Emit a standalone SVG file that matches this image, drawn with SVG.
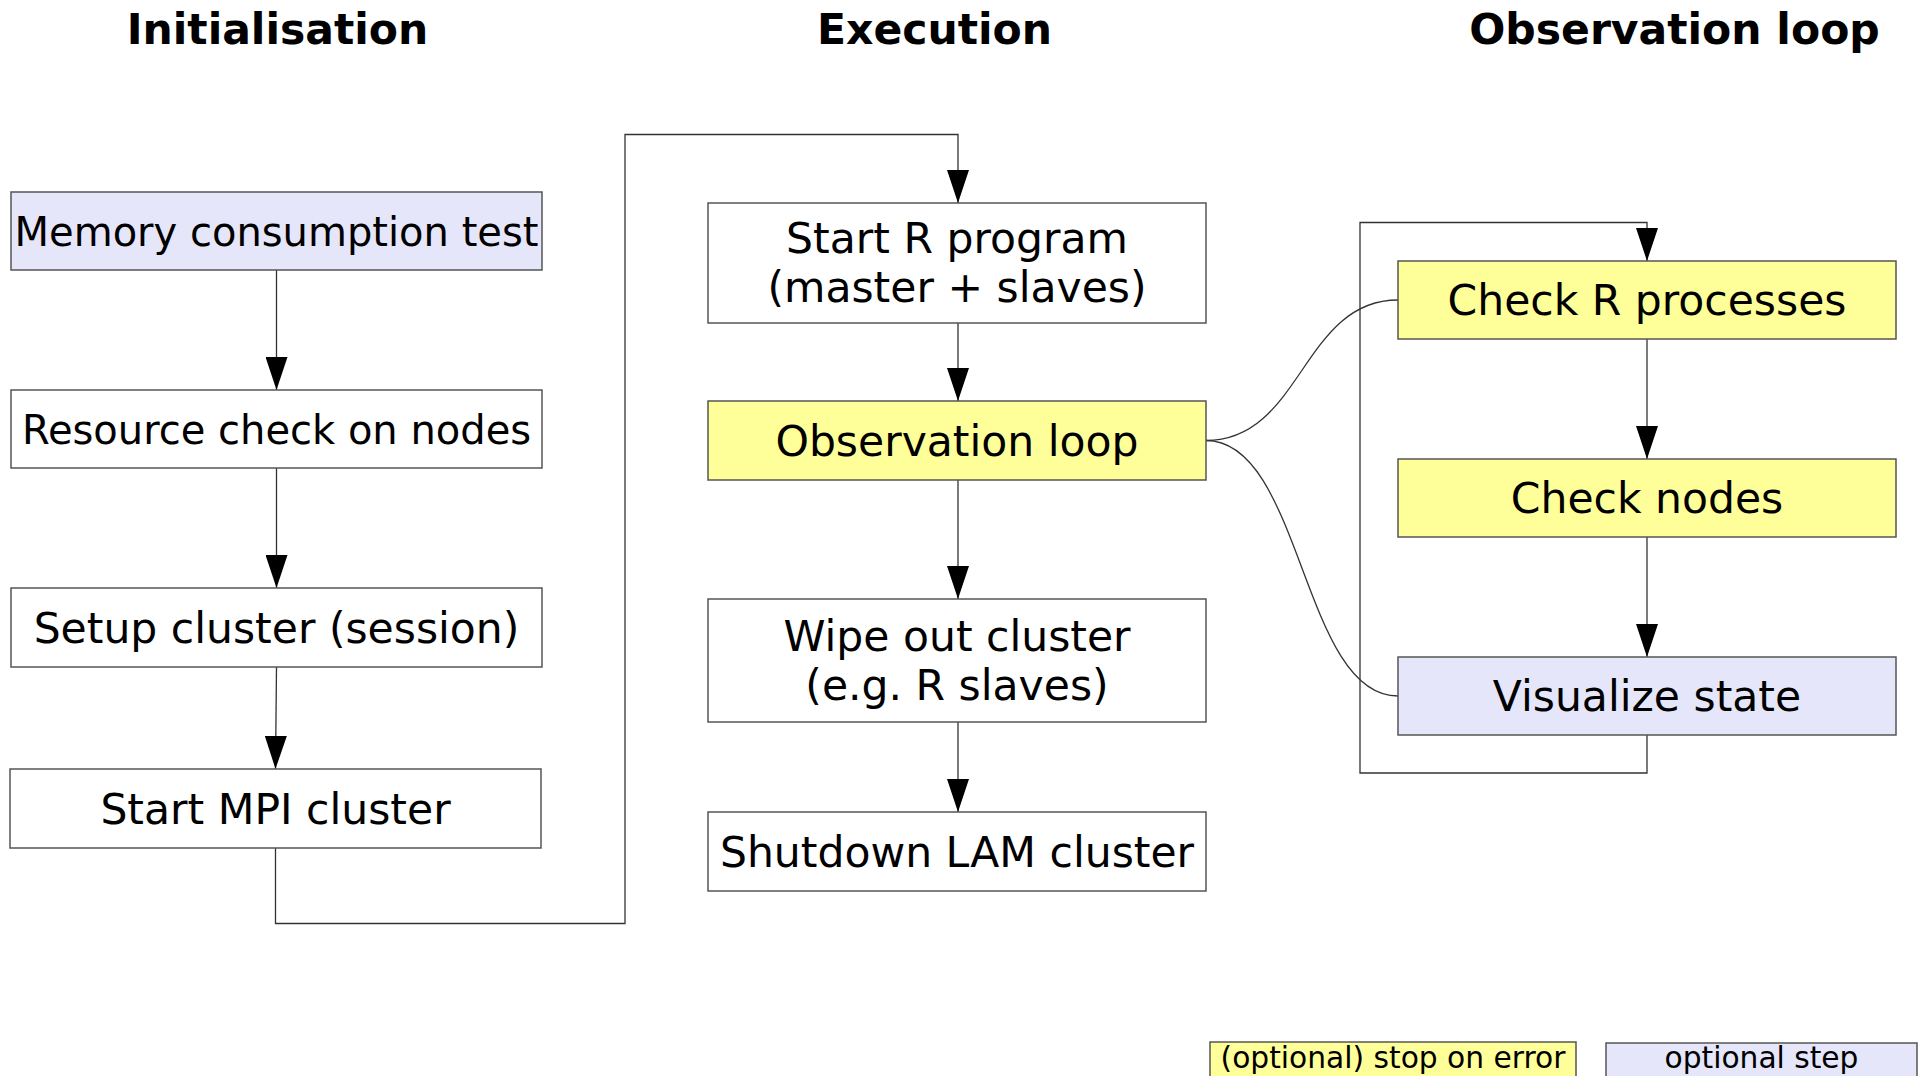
<svg xmlns="http://www.w3.org/2000/svg" width="1918" height="1076" viewBox="0 0 1918 1076">
<defs>
<style>
.box{stroke:#555;stroke-width:1.5}
.plain{fill:#fff}
.yel{fill:#ffff99}
.lav{fill:#e6e6fa}
.t{font-family:"DejaVu Sans",Verdana,sans-serif;font-size:42.5px;fill:#000;text-anchor:middle}
.s{font-size:40px}
.h{font-family:"DejaVu Sans",Verdana,sans-serif;font-size:42.5px;font-weight:bold;fill:#000;text-anchor:middle}
.lg{font-family:"DejaVu Sans",Verdana,sans-serif;font-size:29.7px;fill:#000;text-anchor:middle}
.c{fill:none;stroke:#333;stroke-width:1.3}
</style>
<marker id="arr" markerUnits="userSpaceOnUse" viewBox="0 0 33 22" refX="33" refY="11" markerWidth="33" markerHeight="22" orient="auto">
<path d="M0,0 L33,11 L0,22 z" fill="#000"/>
</marker>
</defs>
<rect width="1918" height="1076" fill="#fff"/>
<g id="titles">
<text class="h" x="277.5" y="44">Initialisation</text>
<text class="h" x="934.5" y="44">Execution</text>
<text class="h" x="1674.5" y="44">Observation loop</text>
</g>
<g id="connectors">
<path class="c" d="M276.5,270 V390" marker-end="url(#arr)"/>
<path class="c" d="M276.5,468 V588" marker-end="url(#arr)"/>
<path class="c" d="M276.5,667 L275.5,769" marker-end="url(#arr)"/>
<path class="c" d="M275.5,848 V923.5 H625 V134.5 H958 V203" marker-end="url(#arr)"/>
<path class="c" d="M958,323 V401" marker-end="url(#arr)"/>
<path class="c" d="M958,480 V599" marker-end="url(#arr)"/>
<path class="c" d="M958,722 V812" marker-end="url(#arr)"/>
<path class="c" d="M1206,440.5 C1302,440.5 1302,300 1398,300"/>
<path class="c" d="M1206,440.5 C1302,440.5 1302,696 1398,696"/>
<path class="c" d="M1647,339 V459" marker-end="url(#arr)"/>
<path class="c" d="M1647,537 V657" marker-end="url(#arr)"/>
<path class="c" d="M1647,735 V773 H1360 V222.5 H1647 V261" marker-end="url(#arr)"/>
</g>
<g id="memory">
<rect class="box lav" x="11" y="192" width="531" height="78"/>
<text class="t s" x="276.5" y="245.5">Memory consumption test</text>
</g>
<g id="resource">
<rect class="box plain" x="11" y="390" width="531" height="78"/>
<text class="t s" x="276.5" y="443.5">Resource check on nodes</text>
</g>
<g id="setup">
<rect class="box plain" x="11" y="588" width="531" height="79"/>
<text class="t" x="276.5" y="643">Setup cluster (session)</text>
</g>
<g id="startmpi">
<rect class="box plain" x="10" y="769" width="531" height="79"/>
<text class="t" x="275.5" y="824">Start MPI cluster</text>
</g>
<g id="startr">
<rect class="box plain" x="708" y="203" width="498" height="120"/>
<text class="t" x="957" y="253">Start R program</text>
<text class="t" x="957" y="302">(master + slaves)</text>
</g>
<g id="obsloop">
<rect class="box yel" x="708" y="401" width="498" height="79"/>
<text class="t" x="957" y="456">Observation loop</text>
</g>
<g id="wipe">
<rect class="box plain" x="708" y="599" width="498" height="123"/>
<text class="t" x="957" y="651">Wipe out cluster</text>
<text class="t" x="957" y="700">(e.g. R slaves)</text>
</g>
<g id="shutdown">
<rect class="box plain" x="708" y="812" width="498" height="79"/>
<text class="t" x="957" y="867">Shutdown LAM cluster</text>
</g>
<g id="checkr">
<rect class="box yel" x="1398" y="261" width="498" height="78"/>
<text class="t" x="1647" y="315">Check R processes</text>
</g>
<g id="checknodes">
<rect class="box yel" x="1398" y="459" width="498" height="78"/>
<text class="t" x="1647" y="513">Check nodes</text>
</g>
<g id="visualize">
<rect class="box lav" x="1398" y="657" width="498" height="78"/>
<text class="t" x="1647" y="711">Visualize state</text>
</g>
<g id="legend-error">
<rect class="box yel" x="1210" y="1042" width="366" height="50"/>
<text class="lg" x="1393" y="1068">(optional) stop on error</text>
</g>
<g id="legend-optional">
<rect class="box lav" x="1606" y="1043" width="311" height="50"/>
<text class="lg" x="1761.5" y="1068">optional step</text>
</g>
</svg>
